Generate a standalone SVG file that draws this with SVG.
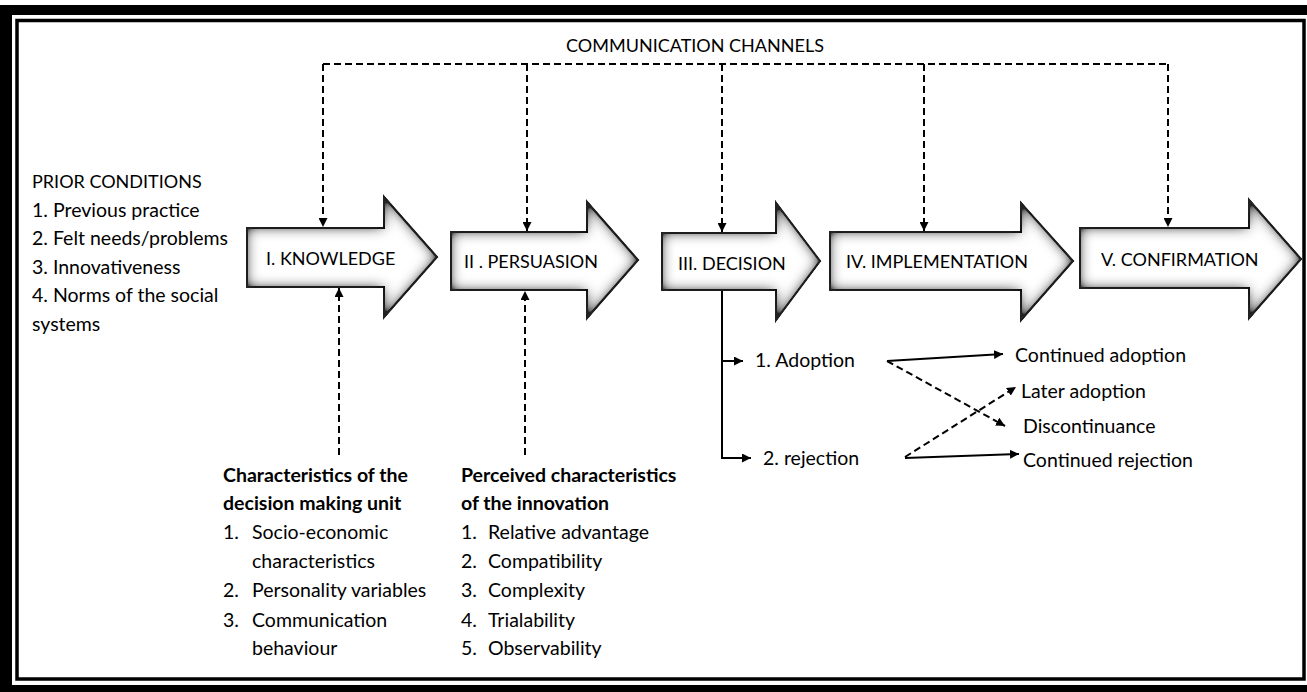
<svg xmlns="http://www.w3.org/2000/svg" width="1307" height="692" viewBox="0 0 1307 692">
  <style>
    .t { font-family: Lato, "Liberation Sans", sans-serif; font-size: 19.5px; fill: #000; }
    .caps { font-size: 18px; }
    .b { font-weight: bold; }
    .lbl { font-family: Lato, "Liberation Sans", sans-serif; font-size: 18px; fill: #000; }
    .stage { fill: #fff; stroke: #000; stroke-width: 2; stroke-linejoin: miter; filter: url(#inset); }
    .dash { fill: none; stroke: #000; stroke-width: 2; stroke-dasharray: 7 4; }
    .solid { fill: none; stroke: #000; stroke-width: 2; }
  </style>
  <defs>
    <!-- soft grey inner shading for the stage arrows -->
    <filter id="inset" x="-5%" y="-5%" width="110%" height="110%">
      <feGaussianBlur in="SourceAlpha" stdDeviation="7" result="blur"/>
      <feComposite in="SourceAlpha" in2="blur" operator="arithmetic" k2="1.6" k3="-1.6" result="edge"/>
      <feFlood flood-color="#222" flood-opacity="1"/>
      <feComposite in2="edge" operator="in" result="shade"/>
      <feMerge>
        <feMergeNode in="SourceGraphic"/>
        <feMergeNode in="shade"/>
      </feMerge>
    </filter>
    <marker id="head" viewBox="0 0 10 10" refX="10" refY="5" markerWidth="9" markerHeight="9" markerUnits="userSpaceOnUse" orient="auto">
      <path d="M0,0 L10,5 L0,10 Z" fill="#000"/>
    </marker>
  </defs>

  <!-- page frame -->
  <rect x="0" y="0" width="1307" height="692" fill="#fff"/>
  <rect x="0" y="5" width="1307" height="687" fill="#000"/>
  <rect x="12" y="15" width="1295" height="670" fill="#fff"/>
  <rect x="17" y="20.5" width="1287" height="658.5" fill="none" stroke="#000" stroke-width="3.5"/>

  <!-- heading -->
  <text class="t caps" x="695" y="52" text-anchor="middle">COMMUNICATION CHANNELS</text>

  <!-- prior conditions -->
  <g id="prior-conditions">
    <text class="t caps" x="32" y="188">PRIOR CONDITIONS</text>
    <text class="t" x="32" y="216.5">1. Previous practice</text>
    <text class="t" x="32" y="245">2. Felt needs/problems</text>
    <text class="t" x="32" y="273.5">3. Innovativeness</text>
    <text class="t" x="32" y="302">4. Norms of the social</text>
    <text class="t" x="32" y="330.5">systems</text>
  </g>

  <!-- stages -->
  <g id="knowledge">
    <path class="stage" d="M247,228 H384 V197 L437,257 L384,317 V287 H247 Z"/>
    <text class="lbl" x="266" y="265">I. KNOWLEDGE</text>
  </g>
  <g id="persuasion">
    <path class="stage" d="M451,232 H587 V202 L638,260 L587,318 V290 H451 Z"/>
    <text class="lbl" x="464" y="268">II . PERSUASION</text>
  </g>
  <g id="decision">
    <path class="stage" d="M662,233 H776 V203 L820,261 L776,320 V290 H662 Z"/>
    <text class="lbl" x="678" y="270">III. DECISION</text>
  </g>
  <g id="implementation">
    <path class="stage" d="M830,232 H1021 V203 L1073,261 L1021,320 V290 H830 Z"/>
    <text class="lbl" x="846" y="268">IV. IMPLEMENTATION</text>
  </g>
  <g id="confirmation">
    <path class="stage" d="M1080,228 H1249 V200 L1301,259 L1249,318 V288 H1080 Z"/>
    <text class="lbl" x="1101" y="266">V. CONFIRMATION</text>
  </g>

  <!-- decision making unit -->
  <g id="decision-unit">
    <text class="t b" x="223" y="482">Characteristics of the</text>
    <text class="t b" x="223" y="510">decision making unit</text>
    <text class="t" x="223" y="539">1.</text><text class="t" x="252" y="539">Socio-economic</text>
    <text class="t" x="252" y="568">characteristics</text>
    <text class="t" x="223" y="597">2.</text><text class="t" x="252" y="597">Personality variables</text>
    <text class="t" x="223" y="627">3.</text><text class="t" x="252" y="627">Communication</text>
    <text class="t" x="252" y="655">behaviour</text>
  </g>

  <!-- innovation characteristics -->
  <g id="innovation">
    <text class="t b" x="461" y="482">Perceived characteristics</text>
    <text class="t b" x="461" y="510">of the innovation</text>
    <text class="t" x="461" y="539">1.</text><text class="t" x="488" y="539">Relative advantage</text>
    <text class="t" x="461" y="568">2.</text><text class="t" x="488" y="568">Compatibility</text>
    <text class="t" x="461" y="597">3.</text><text class="t" x="488" y="597">Complexity</text>
    <text class="t" x="461" y="627">4.</text><text class="t" x="488" y="627">Trialability</text>
    <text class="t" x="461" y="655">5.</text><text class="t" x="488" y="655">Observability</text>
  </g>

  <!-- outcomes -->
  <g id="adoption"><text class="t" x="755" y="367">1. Adoption</text></g>
  <g id="rejection"><text class="t" x="763" y="465">2. rejection</text></g>
  <g id="continued-adoption"><text class="t" x="1015" y="362">Continued adoption</text></g>
  <g id="later-adoption"><text class="t" x="1021" y="398">Later adoption</text></g>
  <g id="discontinuance"><text class="t" x="1023" y="433">Discontinuance</text></g>
  <g id="continued-rejection"><text class="t" x="1023" y="467">Continued rejection</text></g>

  <!-- connectors -->
  <g id="connectors">
    <path class="dash" d="M323,64 H1168"/>
    <path class="dash" d="M323,64 V227" marker-end="url(#head)"/>
    <path class="dash" d="M527,64 V231" marker-end="url(#head)"/>
    <path class="dash" d="M722,64 V232" marker-end="url(#head)"/>
    <path class="dash" d="M924,64 V231" marker-end="url(#head)"/>
    <path class="dash" d="M1168,64 V227" marker-end="url(#head)"/>

    <path class="dash" d="M339,455 V288" marker-end="url(#head)"/>
    <path class="dash" d="M525,455 V291" marker-end="url(#head)"/>

    <path class="solid" d="M722,291 V458 H751" marker-end="url(#head)"/>
    <path class="solid" d="M722,361 H743" marker-end="url(#head)"/>

    <path class="solid" d="M887,361 L1003,354" marker-end="url(#head)"/>
    <path class="dash" d="M887,361 L1005,426" marker-end="url(#head)"/>
    <path class="dash" d="M905,457 L1016,387" marker-end="url(#head)"/>
    <path class="solid" d="M905,458 L1019,454" marker-end="url(#head)"/>
  </g>
</svg>
